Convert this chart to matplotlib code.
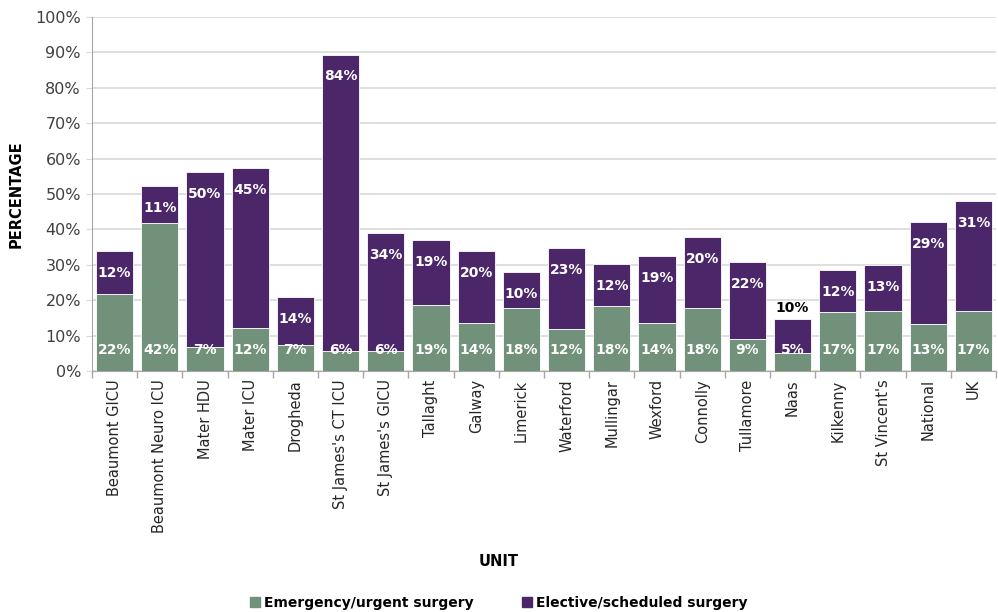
import matplotlib.pyplot as plt
import numpy as np
from matplotlib.patches import Patch

plt.rcParams['font.family'] = ['DejaVu Sans']

units = ['Beaumont GICU', 'Beaumont Neuro ICU', 'Mater HDU', 'Mater ICU', 'Drogheda',
         "St James's CT ICU", "St James's GICU", 'Tallaght', 'Galway', 'Limerick',
         'Waterford', 'Mullingar', 'Wexford', 'Connolly', 'Tullamore', 'Naas',
         'Kilkenny', "St Vincent's", 'National', 'UK']
emergency = [21.7, 41.8, 6.7, 12.1, 7.3, 5.6, 5.6, 18.6, 13.6, 17.8,
             11.9, 18.4, 13.6, 17.9, 9.0, 5.1, 16.6, 17.0, 13.2, 17.0]
elective = [12.3, 10.5, 49.6, 45.2, 13.7, 83.8, 33.5, 18.4, 20.2, 10.1,
            22.9, 11.8, 19.0, 20.0, 21.7, 9.7, 11.9, 12.9, 28.8, 30.9]
emergency_lbl = ['22%', '42%', '7%', '12%', '7%', '6%', '6%', '19%', '14%', '18%',
                 '12%', '18%', '14%', '18%', '9%', '5%', '17%', '17%', '13%', '17%']
elective_lbl = ['12%', '11%', '50%', '45%', '14%', '84%', '34%', '19%', '20%', '10%',
                '23%', '12%', '19%', '20%', '22%', '10%', '12%', '13%', '29%', '31%']

green = '#71917a'
purple = '#4b2769'
grid_c = '#d9d9d9'

fig = plt.figure(figsize=(9.98, 6.12), dpi=100)
ax = fig.add_axes([92 / 998, 1 - 371 / 612, (996 - 92) / 998, (371 - 17) / 612])

x = np.arange(len(units))
w = 0.825
em = np.array(emergency)
el = np.array(elective)
ax.bar(x, em, w, color=green, edgecolor='white', linewidth=0.6, zorder=3)
ax.bar(x, el, w, bottom=em, color=purple, edgecolor='white', linewidth=0.6, zorder=3)

for i in range(len(units)):
    ax.text(x[i], 5.9, emergency_lbl[i], ha='center', va='center', color='white',
            fontsize=10, fontweight='bold', zorder=4)
    top = em[i] + el[i]
    if el[i] < 10:
        # too small to hold its label, so it sits on top in black
        ax.text(x[i], top + 2.9, elective_lbl[i], ha='center', va='center', color='black',
                fontsize=10, fontweight='bold', zorder=4)
    else:
        ax.text(x[i], top - 6.2, elective_lbl[i], ha='center', va='center', color='white',
                fontsize=10, fontweight='bold', zorder=4)

ax.set_xlim(-0.5, len(units) - 0.5)
ax.set_ylim(0, 100)
ax.set_yticks(np.arange(0, 101, 10))
ax.set_yticklabels([f'{v}%' for v in range(0, 101, 10)], fontsize=11.5, color='#404040')
ax.yaxis.grid(True, color=grid_c, linewidth=1.2, zorder=0)
ax.tick_params(axis='y', length=4, color=grid_c, pad=4)

ax.set_xticks(x)
ax.set_xticklabels(units, rotation=90, fontsize=10.5, color='#262626')
ax.set_xticks(np.arange(-0.5, len(units)), minor=True)
ax.tick_params(axis='x', which='major', length=0, pad=6)
ax.tick_params(axis='x', which='minor', length=5, color='#a6a6a6', width=1)

for s in ['top', 'right']:
    ax.spines[s].set_visible(False)
ax.spines['left'].set_color('#a6a6a6')
ax.spines['bottom'].set_color('#a6a6a6')
ax.set_axisbelow(True)

ax.set_ylabel('PERCENTAGE', fontsize=10.5, fontweight='bold', labelpad=8)
fig.text(0.5, 1 - 561 / 612, 'UNIT', ha='center', va='center', fontsize=10.5, fontweight='bold')

handles = [Patch(color=green, label='Emergency/urgent surgery'),
           Patch(color=purple, label='Elective/scheduled surgery')]
fig.legend(handles=handles, loc='center', bbox_to_anchor=(0.5, 1 - 603 / 612), ncol=2,
           frameon=False, handlelength=0.7, handleheight=0.7, handletextpad=0.3,
           columnspacing=3.5, prop={'weight': 'bold', 'size': 10})

fig.savefig('out.png', dpi=100)
